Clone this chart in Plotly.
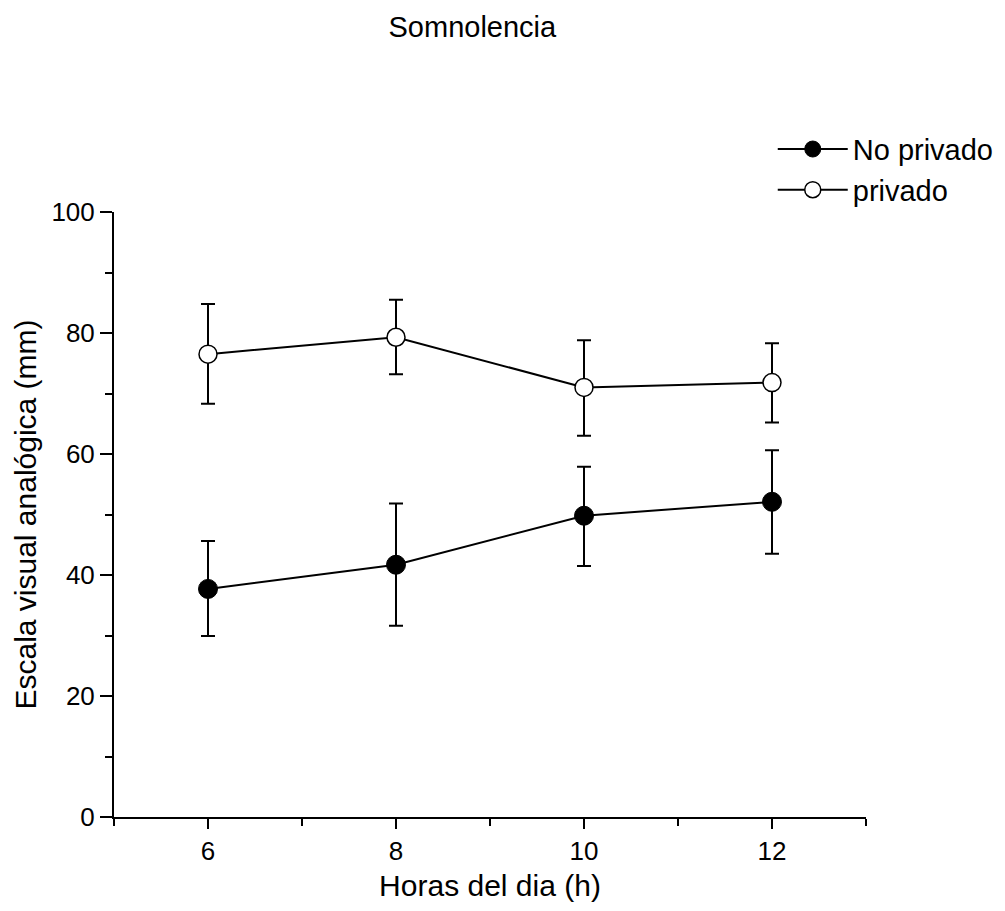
import plotly.graph_objects as go

hours = [6, 8, 10, 12]

no_privado_mean = [37.7, 41.7, 49.8, 52.1]
no_privado_upper = [45.6, 51.8, 57.9, 60.6]
no_privado_lower = [29.9, 31.6, 41.5, 43.5]

privado_mean = [76.5, 79.3, 71.0, 71.8]
privado_upper = [84.8, 85.5, 78.8, 78.3]
privado_lower = [68.3, 73.2, 63.0, 65.2]

x_tick_vals = [6, 8, 10, 12]
x_tick_text = ["6", "8", "10", "12"]
y_tick_vals = [0, 20, 40, 60, 80, 100]

FONT = "Arial, Liberation Sans, sans-serif"


def err(mean, up, lo):
    return dict(
        type="data",
        symmetric=False,
        array=[u - m for u, m in zip(up, mean)],
        arrayminus=[m - l for m, l in zip(mean, lo)],
        color="black",
        thickness=2,
        width=7,
    )


fig = go.Figure()
fig.add_trace(go.Scatter(
    x=hours, y=no_privado_mean, name="No privado", mode="lines+markers",
    line=dict(color="black", width=2),
    marker=dict(symbol="circle", size=19, color="black", line=dict(color="black", width=1)),
    error_y=err(no_privado_mean, no_privado_upper, no_privado_lower),
))
fig.add_trace(go.Scatter(
    x=hours, y=privado_mean, name="privado", mode="lines+markers",
    line=dict(color="black", width=2),
    marker=dict(symbol="circle", size=18, color="white", line=dict(color="black", width=1.5)),
    error_y=err(privado_mean, privado_upper, privado_lower),
))

fig.update_layout(
    width=1005, height=911,
    margin=dict(l=114, r=139, t=212, b=94, autoexpand=False),
    paper_bgcolor="white", plot_bgcolor="white",
    font=dict(family=FONT, color="black"),
    title=dict(text="Somnolencia", x=0.47, xref="container", xanchor="center",
               y=1 - 27 / 911, yref="container", yanchor="middle",
               font=dict(size=29, family=FONT, color="black")),
    legend=dict(x=0.876, y=1.146, xanchor="left", yanchor="top",
                font=dict(size=29, family=FONT, color="black"),
                bgcolor="rgba(0,0,0,0)", tracegroupgap=0, itemsizing="trace",
                itemwidth=70),
    showlegend=True,
)

fig.update_xaxes(
    range=[5, 13], tickvals=x_tick_vals, ticktext=x_tick_text,
    showgrid=False, zeroline=False, showline=True, linecolor="black", linewidth=2,
    ticks="outside", ticklen=10, tickwidth=2, tickcolor="black",
    tickfont=dict(size=26, family=FONT, color="black"),
    minor=dict(dtick=1, tick0=5, ticks="outside", ticklen=7, tickwidth=2, tickcolor="black", showgrid=False),
    title=dict(text="Horas del dia (h)", font=dict(size=30, family=FONT, color="black"), standoff=10),
)
fig.update_yaxes(
    range=[0, 100], tickvals=y_tick_vals,
    showgrid=False, zeroline=False, showline=True, linecolor="black", linewidth=2,
    ticks="outside", ticklen=12, tickwidth=2, tickcolor="black",
    tickfont=dict(size=26, family=FONT, color="black"),
    minor=dict(dtick=10, tick0=0, ticks="outside", ticklen=7, tickwidth=2, tickcolor="black", showgrid=False),
    title=dict(text="Escala visual analógica (mm)", font=dict(size=30, family=FONT, color="black"), standoff=6),
)

fig.write_html("out.html")
